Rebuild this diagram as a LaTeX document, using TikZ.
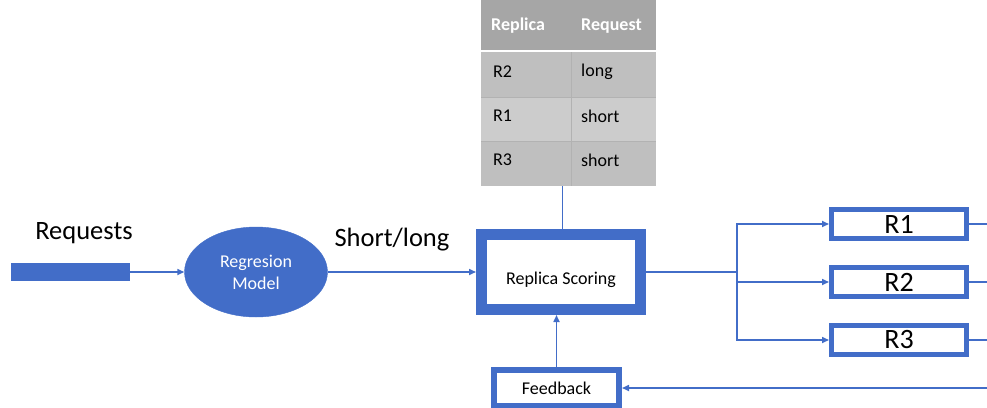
\documentclass[tikz,border=0pt]{standalone}
\usepackage{fontspec}
\setmainfont{Carlito}
\usetikzlibrary{arrows.meta,shapes.geometric}
\definecolor{ablue}{RGB}{66,109,200}
\definecolor{hdr}{RGB}{166,166,166}
\definecolor{rowa}{RGB}{191,191,191}
\definecolor{rowb}{RGB}{204,204,204}
\definecolor{sep}{RGB}{178,178,178}
\tikzset{
  x=1pt,y=-1pt,
  arr/.style={draw=ablue,line width=1.6pt,-{Triangle[length=7pt,width=6pt]}},
  conn/.style={draw=ablue,line width=1.6pt},
  rbox/.style={draw=ablue,line width=5pt,fill=white,minimum width=135pt,minimum height=29pt,inner sep=0pt,font=\fontsize{28}{28}\selectfont},
  cell/.style={anchor=west,inner sep=0pt,font=\fontsize{18}{18}\selectfont},
}
\begin{document}
\begin{tikzpicture}
\useasboundingbox (0,0) rectangle (987,407);
% table
\fill[hdr] (481,0) rectangle (656,50);
\fill[rowa] (481,52) rectangle (656,97);
\fill[rowb] (481,97) rectangle (656,141);
\fill[rowa] (481,141) rectangle (656,186);
\draw[sep,line width=0.8pt] (481,97) -- (656,97) (481,141) -- (656,141) (571,52) -- (571,186);
\node[cell,text=white,font=\bfseries\fontsize{18}{18}\selectfont] (h1) at (491,26) {Replica};
\node[cell,text=white,font=\bfseries\fontsize{18}{18}\selectfont] (h2) at (581,26) {Request};
\node[cell] (a1) at (493,72) {R2};
\node[cell] (a2) at (581,72) {long};
\node[cell] (b1) at (493,116) {R1};
\node[cell] (b2) at (581,116) {short};
\node[cell] (c1) at (493,160) {R3};
\node[cell] (c2) at (581,160) {short};
\coordinate (tb) at (562,186);
% left part
\node[font=\fontsize{26.5}{26.5}\selectfont] (lreq) at (84,233) {Requests};
\node[fill=ablue,minimum width=119pt,minimum height=18pt,inner sep=0pt] (in) at (70.5,272) {};
\node[ellipse,fill=ablue,draw=ablue,minimum width=143pt,minimum height=90pt,inner sep=0pt,text=white,align=center,font=\fontsize{18}{22}\selectfont] (rm) at (256,272) {Regresion\\Model};
\node[font=\fontsize{26.5}{26.5}\selectfont] (lsl) at (392,240) {Short/long};
% scoring
\node[draw=ablue,line width=11pt,fill=white,minimum width=159pt,minimum height=75pt,inner sep=0pt,font=\fontsize{18}{18}\selectfont] (rs) at (561,272) {\smash{\raisebox{-12pt}{Replica Scoring}}};
\node[draw=ablue,line width=6pt,fill=white,minimum width=125pt,minimum height=36pt,inner sep=0pt,font=\fontsize{18}{18}\selectfont] (fb) at (556.5,388) {Feedback};
% replicas
\node[rbox] (r1) at (899,224) {R1};
\node[rbox] (r2) at (899,282) {R2};
\node[rbox] (r3) at (899,340) {R3};
\coordinate (sp) at (737,272);
\coordinate (o1) at (987,224);
\coordinate (o2) at (987,282);
\coordinate (o3) at (987,340);
\coordinate (fin) at (987,388);
% connectors
\draw[arr] (in.east) -- (rm.west);
\draw[arr] (rm.east) -- (rs.west);
\draw[draw=ablue,line width=1pt] (tb) -- (rs.north -| tb);
\draw[conn] (rs.east) -- (sp);
\draw[arr] (sp) |- (r1.west);
\draw[arr] (sp) |- (r3.west);
\draw[arr] (sp) -- (sp |- r2.west) -- (r2.west);
\draw[conn,line width=2pt] (r1.east) -- (o1);
\draw[conn,line width=1.2pt] (r2.east) -- (o2);
\draw[conn,line width=1.2pt] (r3.east) -- (o3);
\draw[arr] (fin) -- (fb.east);
\draw[arr] (fb.north) -- (rs.south -| fb.north);
\end{tikzpicture}
\end{document}
